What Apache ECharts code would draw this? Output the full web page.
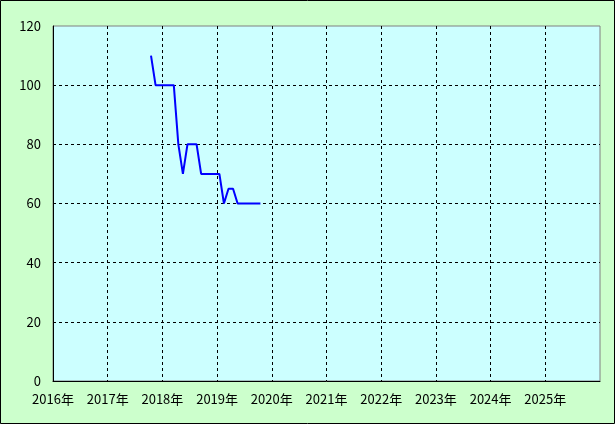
<!DOCTYPE html>
<html>
<head>
<meta charset="utf-8">
<script src="https://cdn.jsdelivr.net/npm/echarts@6/dist/echarts.min.js"></script>
<style>
html,body{margin:0;padding:0;background:#CCFFCC;}
#c{width:615px;height:424px;}
</style>
</head>
<body>
<div id="c"></div>
<script>
// Monthly observations (year-month) and values
const months = ['2017-10','2017-11','2017-12','2018-01','2018-02','2018-03','2018-04','2018-05','2018-06','2018-07','2018-08','2018-09','2018-10','2018-11','2018-12','2019-01','2019-02','2019-03','2019-04','2019-05','2019-06','2019-07','2019-08','2019-09','2019-10'];
const values = [110,100,100,100,100,100,80,70,80,80,80,70,70,70,70,70,60,65,65,60,60,60,60,60,60];
const yearMin = 2016, yearMax = 2026;
const yTicks = [0,20,40,60,80,100,120];

function toYear(s){const [y,m]=s.split('-').map(Number);return y+(m-0.5)/12;}
const seriesData = months.map((m,i)=>[toYear(m),values[i]]);

const font = '"Noto Sans CJK JP","DejaVu Sans",sans-serif';
const chart = echarts.init(document.getElementById('c'));
chart.setOption({
  backgroundColor:'#CCFFCC',
  animation:false,
  grid:{left:53,top:26,right:15,bottom:43,show:true,backgroundColor:'#CCFFFF',borderColor:'#808080',borderWidth:1},
  xAxis:{type:'value',min:yearMin,max:yearMax,interval:1,
    axisLine:{show:true,lineStyle:{color:'#000',width:1}},
    axisTick:{show:false},
    axisLabel:{color:'#000',fontSize:13,fontFamily:font,margin:12,showMaxLabel:false,formatter:v=>v+'年'},
    splitLine:{show:true,showMinLine:false,showMaxLine:false,lineStyle:{color:'#000',type:[3,3],width:1}}},
  yAxis:{type:'value',min:yTicks[0],max:yTicks[yTicks.length-1],interval:20,
    axisLine:{show:true,lineStyle:{color:'#000',width:1}},
    axisTick:{show:false},
    axisLabel:{color:'#000',fontSize:13,fontFamily:font,margin:12},
    splitLine:{show:true,showMinLine:false,showMaxLine:false,lineStyle:{color:'#000',type:[3,3],width:1}}},
  graphic:[{type:'rect',shape:{x:0.5,y:0.5,width:614,height:423},style:{fill:'none',stroke:'#000',lineWidth:1},z:100}],
  series:[{type:'line',data:seriesData,showSymbol:false,symbol:'none',lineStyle:{color:'#0000FF',width:2},itemStyle:{color:'#0000FF'}}]
});
</script>
</body>
</html>
